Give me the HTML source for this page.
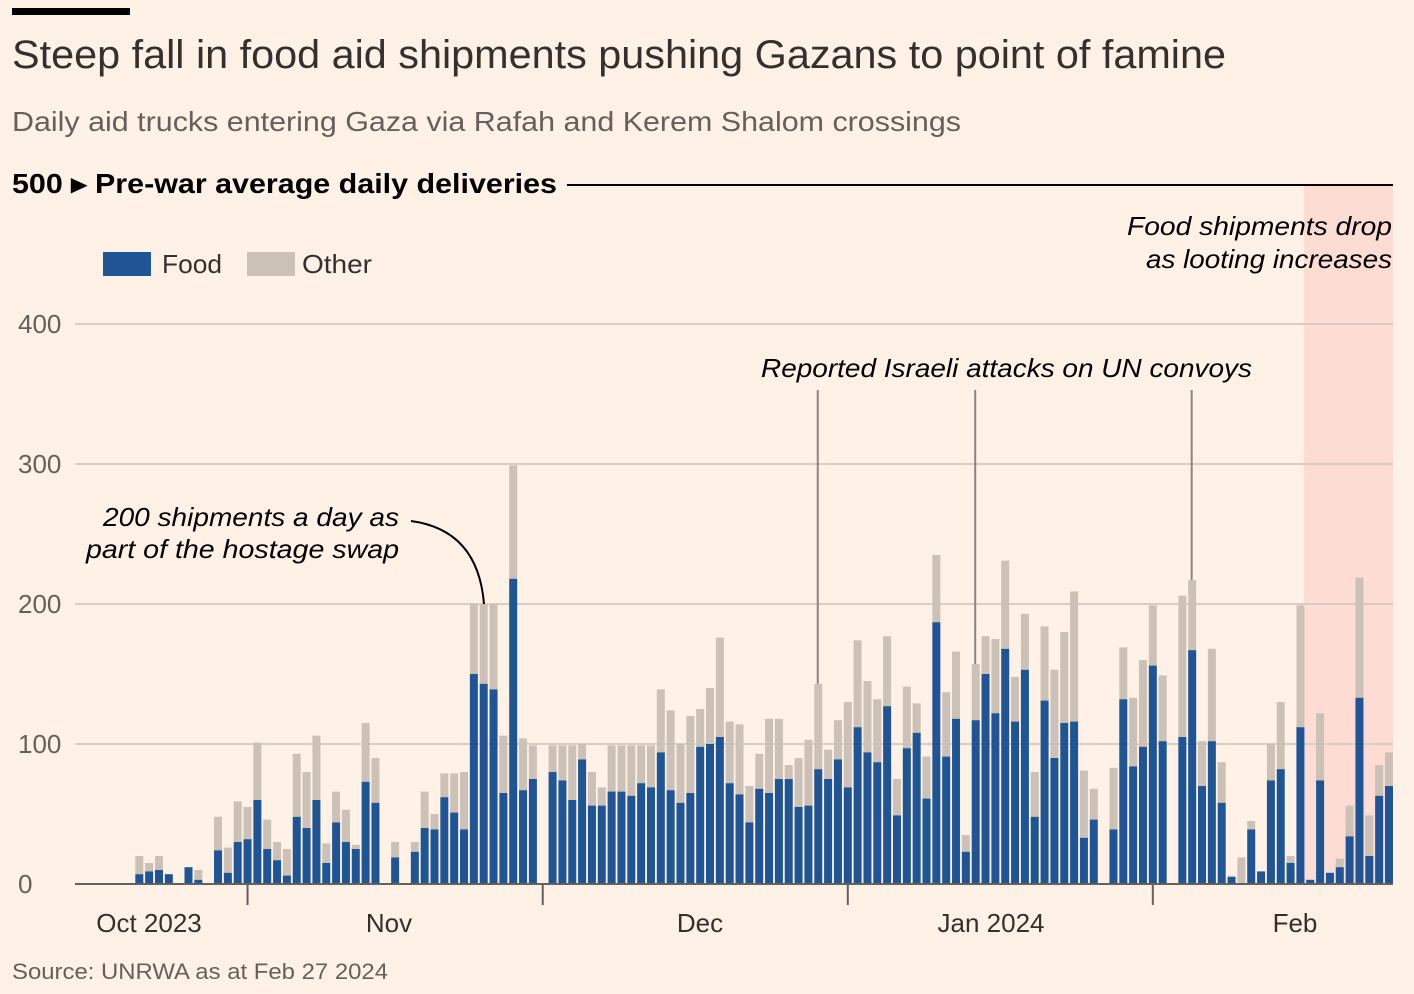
<!DOCTYPE html>
<html><head><meta charset="utf-8"><style>
html,body{margin:0;padding:0;background:#fff1e5;}
svg{display:block;font-family:"Liberation Sans",sans-serif;}
</style></head><body>
<svg id="chart" width="1414" height="994" viewBox="0 0 1414 994" xmlns="http://www.w3.org/2000/svg">
<rect width="1414" height="994" fill="#fff1e5"/>
<rect x="12" y="8" width="118" height="7" fill="#000"/>
<text x="12" y="68" font-size="40" fill="#33302e" textLength="1214" lengthAdjust="spacingAndGlyphs">Steep fall in food aid shipments pushing Gazans to point of famine</text>
<text x="12" y="131" font-size="28" fill="#66605c" textLength="949" lengthAdjust="spacingAndGlyphs">Daily aid trucks entering Gaza via Rafah and Kerem Shalom crossings</text>
<rect x="1304" y="186" width="89" height="698" fill="#fcdcd3"/>
<text x="12" y="193" font-size="28" font-weight="bold" fill="#000" textLength="545" lengthAdjust="spacingAndGlyphs">500 ▸ Pre-war average daily deliveries</text>
<line x1="567" y1="185" x2="1393" y2="185" stroke="#000" stroke-width="2"/>
<g>
<rect x="103" y="252" width="48" height="24" fill="#1f5594"/>
<text x="162" y="273" font-size="26" fill="#33302e" textLength="60" lengthAdjust="spacingAndGlyphs">Food</text>
<rect x="247" y="252" width="48" height="24" fill="#ccc1b7"/>
<text x="302" y="273" font-size="26" fill="#33302e" textLength="70" lengthAdjust="spacingAndGlyphs">Other</text>
</g>
<g id="grid"></g>
<g id="bars"></g>
<g id="axis"></g>
<g font-style="italic" font-size="26" fill="#000">
<text x="1127" y="235" textLength="265" lengthAdjust="spacingAndGlyphs">Food shipments drop</text>
<text x="1146" y="268" textLength="246" lengthAdjust="spacingAndGlyphs">as looting increases</text>
<text x="761" y="377" textLength="491" lengthAdjust="spacingAndGlyphs">Reported Israeli attacks on UN convoys</text>
<text x="103" y="526" textLength="296" lengthAdjust="spacingAndGlyphs">200 shipments a day as</text>
<text x="86" y="558" textLength="313" lengthAdjust="spacingAndGlyphs">part of the hostage swap</text>
<path d="M411 521 Q478 530 484 604" fill="none" stroke="#000" stroke-width="2"/>
</g>
<text x="12" y="979" font-size="22" fill="#66605c" textLength="376" lengthAdjust="spacingAndGlyphs">Source: UNRWA as at Feb 27 2024</text>
</svg>
<script>
// Daily trucks from Oct 21 2023 (index 0); null = no data
const food = [7,9,10,7,null,12,3,null,24,8,30,32,60,25,17,6,48,40,60,15,44,30,25,73,58,null,19,null,23,40,39,62,51,39,150,143,139,65,218,67,75,null,80,74,60,89,56,56,66,66,63,72,69,94,67,58,65,98,100,105,72,64,44,68,65,75,75,55,56,82,75,89,69,112,94,87,127,49,97,108,61,187,91,118,23,117,150,122,168,116,153,48,131,90,115,116,33,46,null,39,132,84,98,156,102,null,105,167,70,102,58,5,0,39,9,74,82,15,112,3,74,8,12,34,133,20,63,70];
const total = [20,15,20,7,null,12,10,null,48,26,59,55,101,46,30,25,93,80,106,29,66,53,28,115,90,null,30,null,30,66,50,79,79,80,200,200,200,106,299,104,99,null,99,99,99,100,80,69,99,99,99,99,99,139,124,100,120,125,140,176,116,114,70,93,118,118,85,90,103,143,96,117,130,174,145,132,177,75,141,129,91,235,137,166,35,157,177,175,231,148,193,80,184,153,180,209,81,68,null,83,169,133,160,199,149,null,206,217,102,168,87,6,19,45,9,100,130,20,199,3,122,8,18,56,219,49,85,94];
const other = total.map((t,i)=> t==null ? null : t - food[i]);
const yTicks = [0,100,200,300,400];
const xTickIdx = [11,41,72,103];
const xLabels = ["Oct 2023","Nov","Dec","Jan 2024","Feb"];
const xLabelPos = [149,389,700,991,1295];
const annotIdx = [69,85,107];

const NS="http://www.w3.org/2000/svg";
const y = v => 884 - v*1.4;
const x = i => 139.3 + i*9.84;
function mk(tag, attrs, parent){const e=document.createElementNS(NS,tag);for(const k in attrs)e.setAttribute(k,attrs[k]);parent.appendChild(e);return e;}
const grid=document.getElementById('grid'), bars=document.getElementById('bars'), axis=document.getElementById('axis');
yTicks.forEach(v=>{
  if(v>0){const l=mk('line',{x1:75,x2:1393,y1:y(v),y2:y(v),stroke:'#d9cdc3','stroke-width':2},grid);
  
  }
  const t=mk('text',{x:18,y:y(v)+9,'font-size':26,fill:'#66605c'},grid);
  t.textContent=v;
  
  
});
food.forEach((f,i)=>{
  if(f==null) return;
  const cx=x(i);
  const o=other[i];
  if(o>0){const r=mk('rect',{x:cx-4,y:y(f+o),width:8,height:o*1.4,fill:'#ccc1b7'},bars);
  
  }
  if(f>0){const r=mk('rect',{x:cx-4,y:y(f),width:8,height:f*1.4,fill:'#1f5594'},bars);
  
  }
});
annotIdx.forEach(i=>{
  const l=mk('line',{x1:x(i)-0.5,x2:x(i)-0.5,y1:390,y2:y(total[i]),stroke:'#8a8580','stroke-width':2},bars);
  
  
});
const base=mk('line',{x1:75,x2:1393,y1:884,y2:884,stroke:'#66605c','stroke-width':2},axis);


xTickIdx.forEach(i=>{
  const l=mk('line',{x1:x(i),x2:x(i),y1:884,y2:905,stroke:'#66605c','stroke-width':2},axis);
  
  
});
xLabels.forEach((s,k)=>{
  const t=mk('text',{x:xLabelPos[k],y:932,'font-size':26,fill:'#33302e','text-anchor':'middle'},axis);
  t.textContent=s;
  
  
});
</script>
</body></html>
